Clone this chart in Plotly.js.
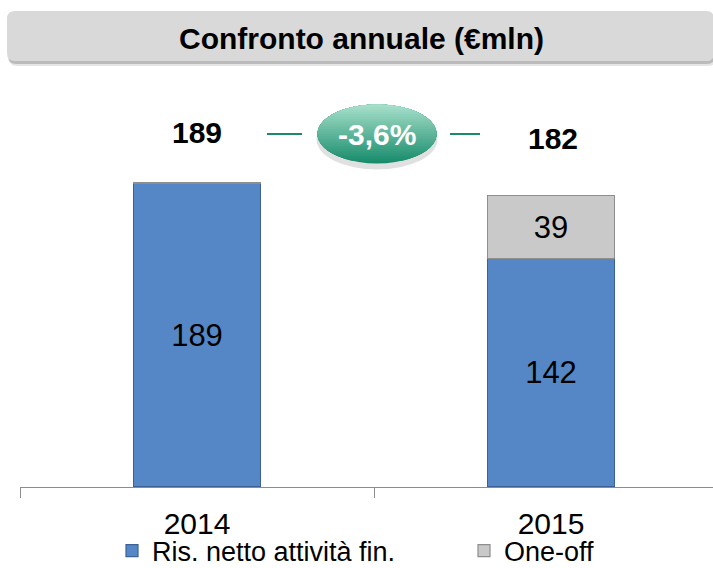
<!DOCTYPE html>
<html>
<head>
<meta charset="utf-8">
<script src="https://cdn.plot.ly/plotly-3.0.1.min.js"></script>
<style>html,body{margin:0;padding:0;background:#fff;}#chart{width:713px;height:568px;}</style>
</head>
<body>
<div id="chart"></div>
<script>
// ---- data ----
const categories = ["2014", "2015"];
const risNetto = [189, 142];
const oneOff = [0, 39];
const oneOffLabels = ["", "39"];
const totals = ["189", "182"];
const changeLabel = "-3,6%";
const seriesNames = ["Ris. netto attività fin.", "One-off"];
const titleText = "Confronto annuale (€mln)";

// ---- layout helpers (pixel -> paper) ----
const W = 713, H = 568;
const mL = 20, mR = 0, mT = 70, mB = 81;
const pw = W - mL - mR, ph = H - mT - mB;
const px2x = p => (p - mL) / pw;
const py2y = p => (H - mB - p) / ph;

const FONT = "Liberation Sans, Arial, sans-serif";

const shapes = [];
function roundRect(x0, y0, x1, y1, r) {
  const X = px2x, Y = py2y;
  return `M${X(x0 + r)},${Y(y0)} L${X(x1 - r)},${Y(y0)} Q${X(x1)},${Y(y0)} ${X(x1)},${Y(y0 + r)} ` +
    `L${X(x1)},${Y(y1 - r)} Q${X(x1)},${Y(y1)} ${X(x1 - r)},${Y(y1)} L${X(x0 + r)},${Y(y1)} ` +
    `Q${X(x0)},${Y(y1)} ${X(x0)},${Y(y1 - r)} L${X(x0)},${Y(y0 + r)} Q${X(x0)},${Y(y0)} ${X(x0 + r)},${Y(y0)} Z`;
}
shapes.push({type: "path", xref: "paper", yref: "paper", path: roundRect(9, 15, 716, 66, 8), fillcolor: "rgba(0,0,0,0.10)", line: {width: 0}});
shapes.push({type: "path", xref: "paper", yref: "paper", path: roundRect(8, 13, 715, 64, 8), fillcolor: "rgba(0,0,0,0.18)", line: {width: 0}});
shapes.push({type: "path", xref: "paper", yref: "paper", path: roundRect(7, 11, 714, 61, 8), fillcolor: "#D9D9D9", line: {width: 0}});

// connector lines
shapes.push({type: "line", xref: "paper", yref: "paper", x0: px2x(267), x1: px2x(302), y0: py2y(134), y1: py2y(134), line: {color: "#1A8A6A", width: 2}});
shapes.push({type: "line", xref: "paper", yref: "paper", x0: px2x(450), x1: px2x(480), y0: py2y(134), y1: py2y(134), line: {color: "#1A8A6A", width: 2}});

// oval badge with vertical gradient (stacked caps)
const ocx = 377, ocy = 134, orx = 59.5, ory = 29.5;
shapes.push({type: "circle", xref: "paper", yref: "paper", x0: px2x(ocx - orx - 1), x1: px2x(ocx + orx + 1), y0: py2y(ocy - ory + 5), y1: py2y(ocy + ory + 6), fillcolor: "rgba(0,0,0,0.12)", line: {width: 0}});
function lerp(a, b, t) { return Math.round(a + (b - a) * t); }
const cTop = [172, 226, 206], cBot = [24, 140, 108];
const N = 24;
for (let k = 0; k < N; k++) {
  const t = 1 - k / N;
  const yc = ocy - ory + 2 * ory * t;
  const col = `rgb(${lerp(cTop[0], cBot[0], t)},${lerp(cTop[1], cBot[1], t)},${lerp(cTop[2], cBot[2], t)})`;
  const dy = Math.max(-1, Math.min(1, (yc - ocy) / ory));
  const a0 = Math.asin(dy);
  let pts = [];
  const M = 40;
  const thL = Math.PI - a0, thR = 2 * Math.PI + a0;
  for (let i = 0; i <= M; i++) {
    const th = thL + (thR - thL) * i / M;
    pts.push([ocx + orx * Math.cos(th), ocy + ory * Math.sin(th)]);
  }
  const path = "M" + pts.map(p => `${px2x(p[0])},${py2y(p[1])}`).join(" L") + " Z";
  shapes.push({type: "path", xref: "paper", yref: "paper", path: path, fillcolor: col, line: {width: 0}});
}

const traces = [
  {
    type: "bar", x: categories, y: risNetto, name: seriesNames[0], legend: "legend",
    text: risNetto.map(String), textposition: "inside", insidetextanchor: "middle", textangle: 0,
    textfont: {family: FONT, size: 31, color: "#000"},
    marker: {color: "#5587C6", line: {color: "#3B6296", width: 1.2}},
    hoverinfo: "skip"
  },
  {
    type: "bar", x: categories, y: oneOff, name: seriesNames[1], legend: "legend2",
    text: oneOffLabels, textposition: "inside", insidetextanchor: "middle", textangle: 0,
    textfont: {family: FONT, size: 31, color: "#000"},
    marker: {color: "#C9C9C9", line: {color: "#8E8E8E", width: 1.2}},
    hoverinfo: "skip"
  }
];

const annotations = [
  {xref: "paper", yref: "paper", x: px2x(197), y: py2y(133), text: "<b>" + totals[0] + "</b>", showarrow: false, font: {family: FONT, size: 30, color: "#000"}, xanchor: "center", yanchor: "middle"},
  {xref: "paper", yref: "paper", x: px2x(553), y: py2y(138), text: "<b>" + totals[1] + "</b>", showarrow: false, font: {family: FONT, size: 30, color: "#000"}, xanchor: "center", yanchor: "middle"},
  {xref: "paper", yref: "paper", x: px2x(377), y: py2y(134), text: "<b>" + changeLabel + "</b>", showarrow: false, font: {family: FONT, size: 30, color: "#fff"}, xanchor: "center", yanchor: "middle"}
];

const legendBase = {orientation: "h", xanchor: "left", yanchor: "middle", y: py2y(551), font: {family: FONT, size: 27, color: "#000"}, bgcolor: "rgba(0,0,0,0)", itemclick: false, itemdoubleclick: false, borderwidth: 0};

const layout = {
  width: W, height: H,
  margin: {l: mL, r: mR, t: mT, b: mB, autoexpand: false},
  paper_bgcolor: "#fff", plot_bgcolor: "#fff",
  barmode: "stack", bargap: 0.64,
  title: {text: "<b>" + titleText + "</b>", font: {family: FONT, size: 30, color: "#000"}, xref: "container", yref: "container", x: 361.5 / W, xanchor: "center", y: 1 - 38 / H, yanchor: "middle"},
  xaxis: {
    type: "category", range: [-0.5, -0.5 + pw / 354],
    showline: true, linecolor: "#8C8C8C", linewidth: 1,
    ticks: "outside", tickson: "boundaries", ticklen: 10, tickcolor: "#8C8C8C", tickwidth: 1,
    tickfont: {family: FONT, size: 30, color: "#000"}, ticklabelstandoff: 10,
    showgrid: false, zeroline: false, fixedrange: true
  },
  yaxis: {range: [0, ph / (304 / 189)], visible: false, showgrid: false, zeroline: false, fixedrange: true},
  showlegend: true,
  legend: Object.assign({}, legendBase, {x: px2x(112)}),
  legend2: Object.assign({}, legendBase, {x: px2x(464)}),
  shapes: shapes,
  annotations: annotations
};

Plotly.newPlot("chart", traces, layout, {displayModeBar: false, staticPlot: true});
</script>
</body>
</html>
